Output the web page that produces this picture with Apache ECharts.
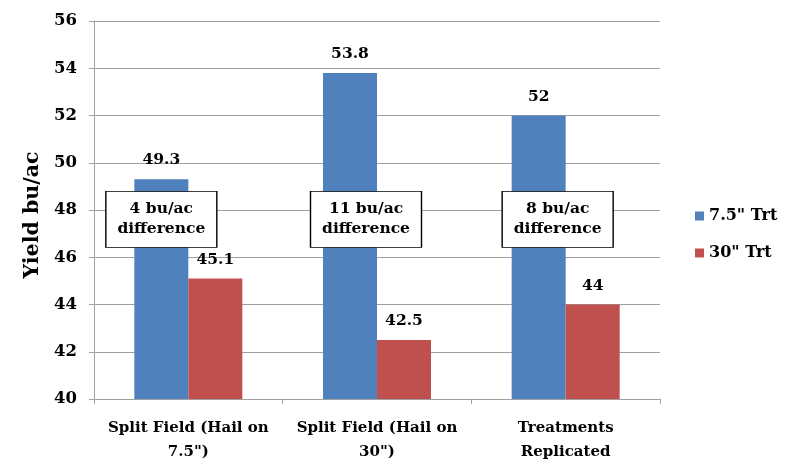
<!DOCTYPE html>
<html><head><meta charset="utf-8">
<script src="https://cdn.jsdelivr.net/npm/echarts@6/dist/echarts.min.js"></script>
<style>html,body{margin:0;padding:0;background:#fff}#c{width:800px;height:465px}</style>
</head><body><div id="c"></div>
<script>
var categories = ['Split Field (Hail on\n7.5")', 'Split Field (Hail on\n30")', 'Treatments\nReplicated'];
var trt75 = [49.3, 53.8, 52];
var trt30 = [45.1, 42.5, 44];
var seriesNames = ['7.5" Trt', '30" Trt'];
var notes = ['4 bu/ac\ndifference', '11 bu/ac\ndifference', '8 bu/ac\ndifference'];
var noteY = 47.6;

var FONT = 'DejaVu Serif';
var noteOffsets = [0, 16, 19];
var chart = echarts.init(document.getElementById('c'));
chart.setOption({
  animation: false,
  textStyle: {fontFamily: FONT, fontWeight: 'bold', color: '#000'},
  grid: {left: 94, right: 140, top: 21, bottom: 66},
  legend: {
    orient: 'vertical', left: 690, top: 203, itemWidth: 9, itemHeight: 9, itemGap: 21,
    icon: 'rect',
    textStyle: {fontFamily: FONT, fontWeight: 'bold', fontSize: 16, color: '#000'},
    data: seriesNames
  },
  xAxis: {
    type: 'category', data: categories,
    axisLine: {lineStyle: {color: '#a0a0a0'}},
    axisTick: {show: true, length: 5, lineStyle: {color: '#a0a0a0'}},
    axisLabel: {fontFamily: FONT, fontWeight: 'bold', fontSize: 15, color: '#000', lineHeight: 24, margin: 17, interval: 0}
  },
  yAxis: {
    type: 'value', min: 40, max: 56, interval: 2,
    name: 'Yield bu/ac', nameLocation: 'middle', nameGap: 46, nameRotate: 90,
    nameTextStyle: {fontFamily: FONT, fontWeight: 'bold', fontSize: 20.5, color: '#000', padding: [0, 10, 0, 0]},
    axisLine: {show: true, lineStyle: {color: '#a0a0a0'}},
    axisTick: {show: true, length: 5, lineStyle: {color: '#a0a0a0'}},
    splitLine: {lineStyle: {color: '#a0a0a0'}},
    axisLabel: {fontFamily: FONT, fontWeight: 'bold', fontSize: 16.5, color: '#000', margin: 17}
  },
  series: [
    {
      name: seriesNames[0], type: 'bar', data: trt75, barWidth: 54, barGap: '0%',
      itemStyle: {color: '#4F81BD'},
      label: {show: true, position: 'top', distance: 11, fontFamily: FONT, fontWeight: 'bold', fontSize: 15.5, color: '#000'},
      markPoint: {
        symbol: 'rect', symbolSize: [111, 56],
        itemStyle: {color: '#fff', borderColor: '#000', borderWidth: 1},
        label: {show: true, position: 'inside', fontFamily: FONT, fontWeight: 'bold', fontSize: 15.5, color: '#000', lineHeight: 20,
          formatter: function(p){ return p.data.text; }},
        data: notes.map(function(t, i){ return {coord: [i, noteY], text: t, symbolOffset: [noteOffsets[i], 0]}; })
      }
    },
    {
      name: seriesNames[1], type: 'bar', data: trt30, barWidth: 54,
      itemStyle: {color: '#C0504D'},
      label: {show: true, position: 'top', distance: 11, fontFamily: FONT, fontWeight: 'bold', fontSize: 15.5, color: '#000'}
    }
  ]
});
</script></body></html>
